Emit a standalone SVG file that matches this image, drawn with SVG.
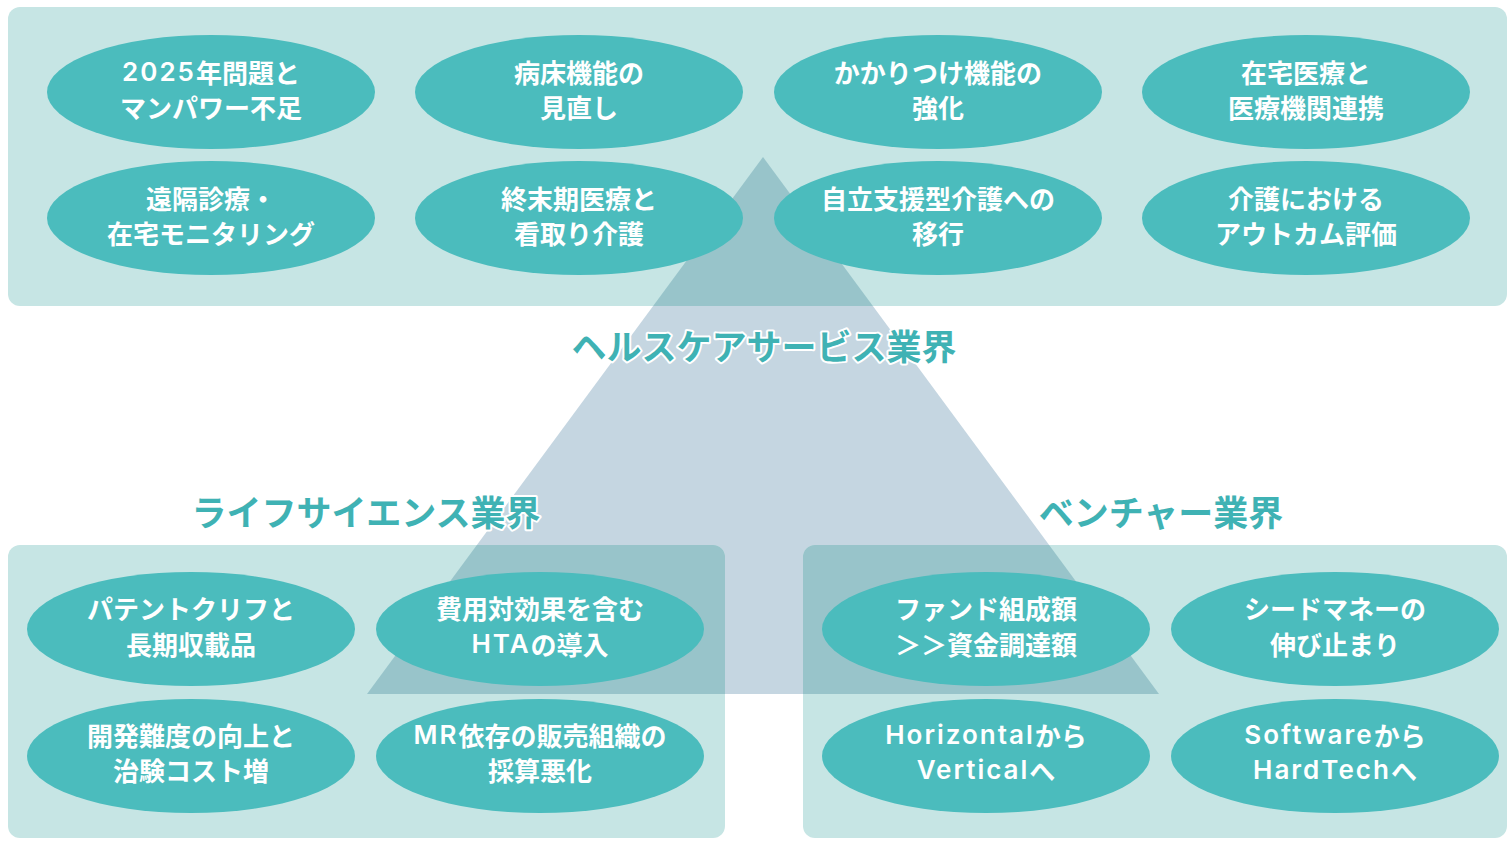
<svg xmlns="http://www.w3.org/2000/svg" width="1509" height="841" viewBox="0 0 1509 841">
<style>
.panel{fill:#c6e5e4}
.tri{fill:#c5d6e1}
.tri-dark{fill:#98c4ca}
.node ellipse{fill:#4bbcbd}
.node text{fill:#ffffff;font-family:"Noto Sans CJK JP","Noto Sans",sans-serif;font-weight:700;font-size:26px;text-anchor:middle;dominant-baseline:central}
.node .lat{font-family:Inter,"Noto Sans CJK JP",sans-serif;font-weight:600;letter-spacing:2px}
.title{fill:#3fb2b4;stroke:#ffffff;stroke-width:4;stroke-linejoin:round;paint-order:stroke;font-family:"Noto Sans CJK JP","Noto Sans",sans-serif;font-weight:700;font-size:35px;text-anchor:middle;dominant-baseline:central}
</style>
<defs>
<clipPath id="panels">
<rect x="8" y="7" width="1499" height="299" rx="12"/>
<rect x="8" y="545" width="717" height="293" rx="12"/>
<rect x="803" y="545" width="704" height="293" rx="12"/>
</clipPath>
</defs>
<rect width="1509" height="841" fill="#ffffff"/>
<g id="background">
<polygon class="tri" points="763,157 367,694 1159,694"/>
<rect class="panel" x="8" y="7" width="1499" height="299" rx="12"/>
<rect class="panel" x="8" y="545" width="717" height="293" rx="12"/>
<rect class="panel" x="803" y="545" width="704" height="293" rx="12"/>
<polygon class="tri-dark" points="763,157 367,694 1159,694" clip-path="url(#panels)"/>
</g>
<g id="connectors"></g>
<g id="n1" class="node"><ellipse cx="211" cy="92" rx="164" ry="57"/><text x="211" y="71"><tspan class="lat">2025</tspan>年問題と</text><text x="211" y="106">マンパワー不足</text></g>
<g id="n2" class="node"><ellipse cx="579" cy="92" rx="164" ry="57"/><text x="579" y="71">病床機能の</text><text x="579" y="106">見直し</text></g>
<g id="n3" class="node"><ellipse cx="938" cy="92" rx="164" ry="57"/><text x="938" y="71">かかりつけ機能の</text><text x="938" y="106">強化</text></g>
<g id="n4" class="node"><ellipse cx="1306" cy="92" rx="164" ry="57"/><text x="1306" y="71">在宅医療と</text><text x="1306" y="106">医療機関連携</text></g>
<g id="n5" class="node"><ellipse cx="211" cy="218" rx="164" ry="57"/><text x="211" y="197">遠隔診療・</text><text x="211" y="232">在宅モニタリング</text></g>
<g id="n6" class="node"><ellipse cx="579" cy="218" rx="164" ry="57"/><text x="579" y="197">終末期医療と</text><text x="579" y="232">看取り介護</text></g>
<g id="n7" class="node"><ellipse cx="938" cy="218" rx="164" ry="57"/><text x="938" y="197">自立支援型介護への</text><text x="938" y="232">移行</text></g>
<g id="n8" class="node"><ellipse cx="1306" cy="218" rx="164" ry="57"/><text x="1306" y="197">介護における</text><text x="1306" y="232">アウトカム評価</text></g>
<g id="t1"><text class="title" x="764" y="344">ヘルスケアサービス業界</text></g>
<g id="t2"><text class="title" x="366" y="510">ライフサイエンス業界</text></g>
<g id="t3"><text class="title" x="1161" y="510">ベンチャー業界</text></g>
<g id="n9" class="node"><ellipse cx="191" cy="629" rx="164" ry="57"/><text x="191" y="607">パテントクリフと</text><text x="191" y="643">長期収載品</text></g>
<g id="n10" class="node"><ellipse cx="540" cy="629" rx="164" ry="57"/><text x="540" y="607">費用対効果を含む</text><text x="540" y="643"><tspan class="lat">HTA</tspan>の導入</text></g>
<g id="n11" class="node"><ellipse cx="191" cy="756" rx="164" ry="57"/><text x="191" y="734">開発難度の向上と</text><text x="191" y="769">治験コスト増</text></g>
<g id="n12" class="node"><ellipse cx="540" cy="756" rx="164" ry="57"/><text x="540" y="734"><tspan class="lat">MR</tspan>依存の販売組織の</text><text x="540" y="769">採算悪化</text></g>
<g id="n13" class="node"><ellipse cx="986" cy="629" rx="164" ry="57"/><text x="986" y="607">ファンド組成額</text><text x="986" y="643">＞＞資金調達額</text></g>
<g id="n14" class="node"><ellipse cx="1335" cy="629" rx="164" ry="57"/><text x="1335" y="607">シードマネーの</text><text x="1335" y="643">伸び止まり</text></g>
<g id="n15" class="node"><ellipse cx="986" cy="756" rx="164" ry="57"/><text x="986" y="734"><tspan class="lat">Horizontal</tspan>から</text><text x="986" y="769"><tspan class="lat">Vertical</tspan>へ</text></g>
<g id="n16" class="node"><ellipse cx="1335" cy="756" rx="164" ry="57"/><text x="1335" y="734"><tspan class="lat">Software</tspan>から</text><text x="1335" y="769"><tspan class="lat">HardTech</tspan>へ</text></g>
</svg>
